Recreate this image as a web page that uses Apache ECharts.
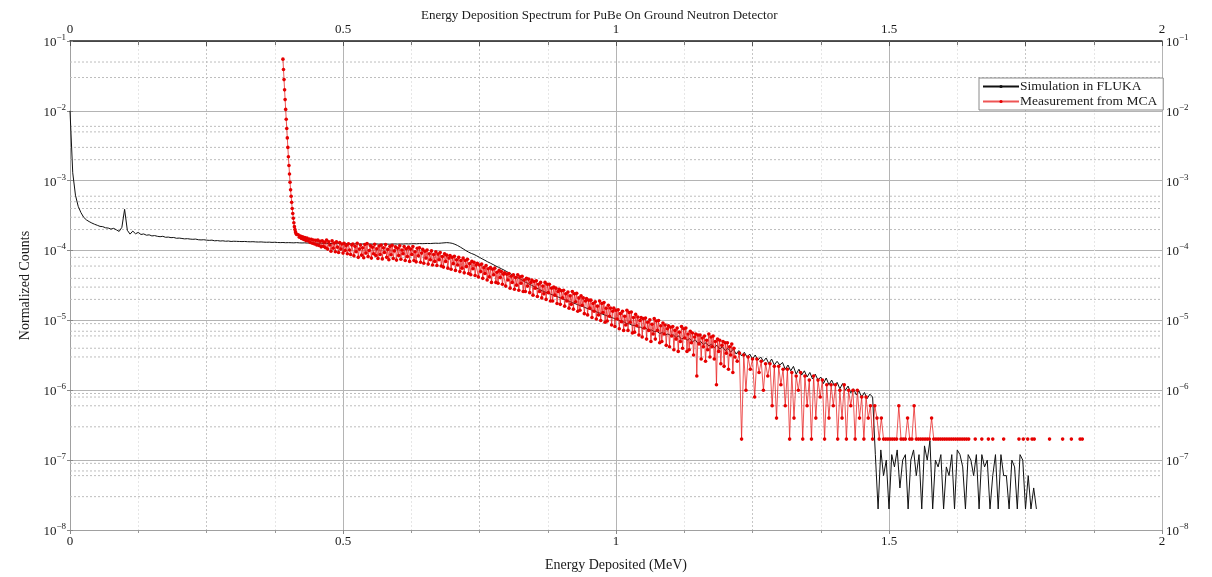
<!DOCTYPE html>
<html>
<head>
<meta charset="utf-8">
<title>Energy Deposition Spectrum for PuBe On Ground Neutron Detector</title>
<script src="https://cdn.jsdelivr.net/npm/echarts@6/dist/echarts.min.js"></script>
<style>
  html, body { margin: 0; padding: 0; background: #fff; }
  #chart { width: 1212px; height: 577px; }
</style>
</head>
<body>
<div id="chart"></div>
<script>
// ---- FLUKA simulation: fixed-width energy bins starting at 0 MeV ----
const flukaStart = 0;
const flukaBinWidth = 0.005;
const flukaCounts = [
  // 0.000 - 0.100
  1.0e-2, 1.3e-3, 6.2e-4, 4.3e-4, 3.5e-4, 3.0e-4, 2.75e-4, 2.6e-4, 2.48e-4, 2.38e-4,
  2.3e-4, 2.22e-4, 2.2e-4, 2.12e-4, 2.1e-4, 2.03e-4, 2.08e-4, 1.98e-4, 1.88e-4, 2.15e-4, 3.9e-4,
  // 0.105 - 0.200
  1.95e-4, 1.72e-4, 1.9e-4, 1.74e-4, 1.82e-4, 1.7e-4, 1.73e-4, 1.66e-4, 1.68e-4, 1.62e-4,
  1.64e-4, 1.6e-4, 1.58e-4, 1.6e-4, 1.55e-4, 1.56e-4, 1.53e-4, 1.54e-4, 1.5e-4, 1.51e-4,
  // 0.205 - 0.300
  1.49e-4, 1.47e-4, 1.48e-4, 1.46e-4, 1.45e-4, 1.46e-4, 1.43e-4, 1.42e-4, 1.43e-4, 1.41e-4,
  1.4e-4, 1.41e-4, 1.38e-4, 1.39e-4, 1.37e-4, 1.38e-4, 1.36e-4, 1.37e-4, 1.35e-4, 1.36e-4,
  // 0.305 - 0.400
  1.355e-4, 1.35e-4, 1.345e-4, 1.35e-4, 1.34e-4, 1.335e-4, 1.34e-4, 1.33e-4, 1.325e-4, 1.33e-4,
  1.32e-4, 1.315e-4, 1.32e-4, 1.31e-4, 1.315e-4, 1.305e-4, 1.3e-4, 1.305e-4, 1.295e-4, 1.3e-4,
  // 0.405 - 0.500
  1.295e-4, 1.29e-4, 1.3e-4, 1.29e-4, 1.285e-4, 1.29e-4, 1.28e-4, 1.285e-4, 1.275e-4, 1.28e-4,
  1.27e-4, 1.275e-4, 1.265e-4, 1.27e-4, 1.26e-4, 1.265e-4, 1.26e-4, 1.255e-4, 1.26e-4, 1.25e-4,
  // 0.505 - 0.600
  1.255e-4, 1.245e-4, 1.25e-4, 1.24e-4, 1.25e-4, 1.245e-4, 1.24e-4, 1.25e-4, 1.24e-4, 1.245e-4,
  1.235e-4, 1.245e-4, 1.24e-4, 1.235e-4, 1.245e-4, 1.24e-4, 1.235e-4, 1.24e-4, 1.245e-4, 1.24e-4,
  // 0.605 - 0.680
  1.245e-4, 1.24e-4, 1.25e-4, 1.245e-4, 1.25e-4, 1.255e-4, 1.25e-4, 1.26e-4, 1.255e-4, 1.26e-4,
  1.265e-4, 1.26e-4, 1.27e-4, 1.275e-4, 1.27e-4, 1.28e-4,
  // 0.685 - 0.800
  1.29e-4, 1.3e-4, 1.29e-4, 1.27e-4, 1.23e-4, 1.18e-4, 1.12e-4, 1.06e-4, 1.0e-4, 9.5e-5,
  9.1e-5, 8.8e-5, 8.4e-5, 8.0e-5, 7.6e-5, 7.25e-5, 6.9e-5, 6.6e-5, 6.3e-5, 6.0e-5,
  5.75e-5, 5.5e-5, 5.25e-5, 5.0e-5,
  // 0.805 - 0.860
  4.75e-5, 4.5e-5, 4.3e-5, 4.1e-5, 3.9e-5, 3.7e-5, 3.5e-5, 3.35e-5, 3.2e-5, 3.05e-5, 2.9e-5, 2.78e-5,
  // 0.865 - 1.000
  2.65e-5, 2.55e-5, 2.47e-5, 2.38e-5, 2.3e-5, 2.22e-5, 2.15e-5, 2.07e-5, 2.0e-5, 1.93e-5,
  1.87e-5, 1.8e-5, 1.74e-5, 1.68e-5, 1.62e-5, 1.57e-5, 1.51e-5, 1.46e-5, 1.41e-5, 1.37e-5,
  1.32e-5, 1.28e-5, 1.23e-5, 1.19e-5, 1.15e-5, 1.11e-5, 1.08e-5, 1.04e-5,
  // 1.005 - 1.100
  1.01e-5, 9.6e-6, 9.5e-6, 9.0e-6, 8.9e-6, 8.5e-6, 8.5e-6, 8.0e-6, 8.0e-6, 7.6e-6,
  7.7e-6, 7.2e-6, 7.3e-6, 6.9e-6, 7.0e-6, 6.5e-6, 6.7e-6, 6.2e-6, 6.4e-6, 6.1e-6,
  // 1.105 - 1.200
  6.2e-6, 5.7e-6, 6.0e-6, 5.4e-6, 5.7e-6, 5.2e-6, 5.5e-6, 4.9e-6, 5.3e-6, 4.7e-6,
  5.0e-6, 4.5e-6, 4.8e-6, 4.3e-6, 4.6e-6, 4.1e-6, 4.4e-6, 3.9e-6, 4.2e-6, 3.7e-6,
  // 1.205 - 1.300
  4.0e-6, 3.5e-6, 3.9e-6, 3.3e-6, 3.7e-6, 3.1e-6, 3.5e-6, 3.0e-6, 3.3e-6, 2.8e-6,
  3.2e-6, 2.7e-6, 3.0e-6, 2.6e-6, 2.9e-6, 2.4e-6, 2.8e-6, 2.3e-6, 2.6e-6, 2.3e-6,
  // 1.305 - 1.405
  2.5e-6, 2.0e-6, 2.3e-6, 1.9e-6, 2.2e-6, 1.7e-6, 2.0e-6, 1.65e-6, 1.9e-6, 1.55e-6,
  1.8e-6, 1.45e-6, 1.7e-6, 1.4e-6, 1.55e-6, 1.25e-6, 1.5e-6, 1.2e-6, 1.4e-6, 1.15e-6, 1.3e-6,
  // 1.410 - 1.470
  1.05e-6, 1.25e-6, 1.0e-6, 1.15e-6, 9.2e-7, 1.05e-6, 8.6e-7, 9.8e-7, 8.0e-7, 9.3e-7,
  7.6e-7, 8.8e-7, 8.0e-7,
  // 1.475 - 1.570
  1.2e-7, 2e-8, 1.4e-7, 6e-8, 1.0e-7, 2e-8, 1.2e-7, 8e-8, 1.4e-7, 4e-8,
  1.0e-7, 1.2e-7, 2e-8, 1.0e-7, 1.4e-7, 6e-8, 1.2e-7, 2e-8, 1.6e-7, 1.0e-7,
  // 1.575 - 1.670
  1.9e-7, 2e-8, 1.0e-7, 8e-8, 1.2e-7, 2e-8, 8e-8, 6e-8, 1.2e-7, 2e-8,
  1.4e-7, 1.2e-7, 8e-8, 2e-8, 1.2e-7, 1.0e-7, 6e-8, 1.2e-7, 2e-8, 1.2e-7,
  // 1.675 - 1.770
  8e-8, 1.0e-7, 2e-8, 6e-8, 1.2e-7, 2e-8, 1.2e-7, 6e-8, 6e-8, 2e-8,
  1.0e-7, 8e-8, 2e-8, 1.2e-7, 1.0e-7, 2e-8, 6e-8, 2e-8, 4e-8, 2e-8
];

// ---- MCA measurement ----
// steep leading edge
const mcaEdgeEnergy = [
  0.390, 0.391, 0.392, 0.393, 0.394, 0.395, 0.396, 0.397, 0.398, 0.399, 0.400, 0.401, 0.402,
  0.403, 0.404, 0.405, 0.406, 0.407, 0.408, 0.409, 0.410, 0.411, 0.412, 0.413, 0.414, 0.415
];
const mcaEdgeCounts = [
  5.5e-2, 3.9e-2, 2.8e-2, 2.0e-2, 1.45e-2, 1.05e-2, 7.6e-3, 5.6e-3, 4.1e-3, 3.0e-3, 2.2e-3, 1.65e-3, 1.25e-3,
  9.5e-4, 7.4e-4, 6.0e-4, 4.9e-4, 4.0e-4, 3.4e-4, 2.9e-4, 2.5e-4, 2.2e-4, 2.0e-4, 1.85e-4, 1.75e-4, 1.7e-4
];
// fine channels through the dense part of the spectrum
const mcaBandStart = 0.418;
const mcaBandStep = 0.002;
const mcaBandCounts = [
  // 0.418 - 0.466
  1.68e-4, 1.55e-4, 1.62e-4, 1.49e-4, 1.58e-4, 1.44e-4, 1.53e-4, 1.39e-4, 1.51e-4, 1.37e-4,
  1.46e-4, 1.31e-4, 1.45e-4, 1.27e-4, 1.42e-4, 1.24e-4, 1.4e-4, 1.2e-4, 1.41e-4, 1.18e-4,
  1.36e-4, 1.13e-4, 1.38e-4, 1.15e-4, 1.32e-4,
  // 0.468 - 0.516
  1.1e-4, 1.42e-4, 1.05e-4, 1.34e-4, 1.2e-4, 9.8e-5, 1.38e-4, 1.08e-4, 1.28e-4, 9.6e-5,
  1.33e-4, 1.12e-4, 9.4e-5, 1.3e-4, 1.05e-4, 1.24e-4, 9.2e-5, 1.27e-4, 1.0e-4, 1.18e-4,
  9.0e-5, 1.25e-4, 1.02e-4, 8.8e-5, 1.2e-4,
  // 0.518 - 0.566
  1.24e-4, 8.4e-5, 1.15e-4, 9.6e-5, 1.27e-4, 8.0e-5, 1.05e-4, 1.2e-4, 8.6e-5, 1.1e-4,
  7.9e-5, 1.22e-4, 9.2e-5, 1.26e-4, 8.2e-5, 1.0e-4, 1.18e-4, 7.8e-5, 1.12e-4, 9.0e-5,
  1.23e-4, 8.5e-5, 1.06e-4, 7.7e-5, 1.16e-4,
  // 0.568 - 0.616
  8.8e-5, 1.2e-4, 7.6e-5, 1.1e-4, 9.4e-5, 1.22e-4, 8.0e-5, 1.04e-4, 7.4e-5, 1.15e-4,
  8.7e-5, 1.19e-4, 7.7e-5, 9.9e-5, 1.13e-4, 7.3e-5, 1.08e-4, 8.5e-5, 1.17e-4, 7.5e-5,
  1.02e-4, 9.0e-5, 1.14e-4, 7.2e-5, 1.06e-4,
  // 0.618 - 0.666
  8.2e-5, 1.12e-4, 7.0e-5, 1.05e-4, 8.8e-5, 1.14e-4, 7.2e-5, 9.6e-5, 6.9e-5, 1.08e-4,
  8.4e-5, 1.1e-4, 6.8e-5, 9.2e-5, 1.04e-4, 6.6e-5, 9.8e-5, 7.8e-5, 1.02e-4, 6.4e-5,
  9.0e-5, 7.4e-5, 9.9e-5, 6.2e-5, 8.8e-5,
  // 0.668 - 0.716
  7.0e-5, 9.6e-5, 6.1e-5, 8.9e-5, 7.4e-5, 9.4e-5, 6.0e-5, 8.2e-5, 5.8e-5, 9.0e-5,
  7.0e-5, 8.6e-5, 5.6e-5, 7.8e-5, 8.5e-5, 5.4e-5, 8.0e-5, 6.5e-5, 8.3e-5, 5.2e-5,
  7.4e-5, 6.2e-5, 8.0e-5, 5.0e-5, 7.2e-5,
  // 0.718 - 0.766
  5.6e-5, 7.8e-5, 4.8e-5, 7.2e-5, 5.9e-5, 7.5e-5, 4.7e-5, 6.5e-5, 4.5e-5, 7.0e-5,
  5.5e-5, 6.8e-5, 4.4e-5, 6.2e-5, 6.6e-5, 4.2e-5, 6.2e-5, 5.0e-5, 6.4e-5, 4.0e-5,
  5.7e-5, 4.7e-5, 6.1e-5, 3.8e-5, 5.5e-5,
  // 0.768 - 0.816
  4.2e-5, 5.7e-5, 3.5e-5, 5.4e-5, 4.5e-5, 5.6e-5, 3.5e-5, 4.9e-5, 3.4e-5, 5.2e-5,
  4.1e-5, 5.0e-5, 3.3e-5, 4.6e-5, 4.8e-5, 3.1e-5, 4.6e-5, 3.8e-5, 4.7e-5, 2.9e-5,
  4.3e-5, 3.5e-5, 4.5e-5, 2.8e-5, 4.1e-5,
  // 0.818 - 0.866
  3.2e-5, 4.5e-5, 2.7e-5, 4.2e-5, 3.4e-5, 4.3e-5, 2.6e-5, 3.8e-5, 2.6e-5, 4.0e-5,
  3.1e-5, 3.9e-5, 2.5e-5, 3.5e-5, 3.8e-5, 2.3e-5, 3.6e-5, 2.9e-5, 3.7e-5, 2.2e-5,
  3.3e-5, 2.6e-5, 3.5e-5, 2.1e-5, 3.1e-5,
  // 0.868 - 0.916
  2.4e-5, 3.5e-5, 2.0e-5, 3.3e-5, 2.5e-5, 3.3e-5, 1.9e-5, 2.9e-5, 1.9e-5, 3.0e-5,
  2.3e-5, 2.9e-5, 1.75e-5, 2.6e-5, 2.8e-5, 1.7e-5, 2.65e-5, 2.1e-5, 2.7e-5, 1.6e-5,
  2.4e-5, 1.9e-5, 2.55e-5, 1.5e-5, 2.25e-5,
  // 0.918 - 0.966
  1.7e-5, 2.6e-5, 1.45e-5, 2.4e-5, 1.85e-5, 2.45e-5, 1.35e-5, 2.1e-5, 1.4e-5, 2.25e-5,
  1.65e-5, 2.1e-5, 1.25e-5, 1.9e-5, 2.05e-5, 1.2e-5, 1.95e-5, 1.5e-5, 1.95e-5, 1.1e-5,
  1.75e-5, 1.35e-5, 1.85e-5, 1.05e-5, 1.6e-5,
  // 0.968 - 1.016
  1.2e-5, 1.9e-5, 1.0e-5, 1.75e-5, 1.3e-5, 1.8e-5, 9.4e-6, 1.5e-5, 9.8e-6, 1.65e-5,
  1.15e-5, 1.5e-5, 8.6e-6, 1.35e-5, 1.5e-5, 8.2e-6, 1.4e-5, 1.05e-5, 1.42e-5, 7.6e-6,
  1.25e-5, 9.6e-6, 1.35e-5, 7.2e-6, 1.15e-5,
  // 1.018 - 1.066
  8.6e-6, 1.4e-5, 7.2e-6, 1.3e-5, 9.4e-6, 1.32e-5, 6.6e-6, 1.1e-5, 6.8e-6, 1.22e-5,
  8.4e-6, 1.12e-5, 6.2e-6, 1.0e-5, 1.1e-5, 5.8e-6, 1.06e-5, 7.8e-6, 1.08e-5, 5.4e-6,
  9.4e-6, 7.2e-6, 1.02e-5, 5.0e-6, 8.8e-6,
  // 1.068 - 1.116
  6.4e-6, 1.06e-5, 5.4e-6, 9.8e-6, 7.2e-6, 1.0e-5, 4.8e-6, 8.4e-6, 5.0e-6, 9.2e-6,
  6.4e-6, 8.6e-6, 4.4e-6, 7.6e-6, 8.4e-6, 4.2e-6, 8.0e-6, 6.0e-6, 8.2e-6, 3.8e-6,
  7.2e-6, 5.4e-6, 7.8e-6, 3.6e-6, 6.8e-6,
  // 1.118 - 1.166
  5.0e-6, 8.2e-6, 4.0e-6, 7.6e-6, 5.6e-6, 7.8e-6, 3.6e-6, 6.4e-6, 3.8e-6, 7.0e-6,
  4.8e-6, 6.6e-6, 3.2e-6, 5.8e-6, 6.4e-6, 1.6e-6, 6.2e-6, 4.6e-6, 6.2e-6, 2.8e-6,
  5.6e-6, 4.2e-6, 6.0e-6, 2.6e-6, 5.2e-6,
  // 1.168 - 1.218
  3.8e-6, 6.4e-6, 3.0e-6, 5.8e-6, 4.2e-6, 6.0e-6, 2.8e-6, 5.0e-6, 1.2e-6, 5.4e-6,
  3.6e-6, 5.2e-6, 2.4e-6, 4.4e-6, 5.0e-6, 2.2e-6, 4.8e-6, 3.4e-6, 4.8e-6, 2.0e-6,
  4.2e-6, 3.2e-6, 4.6e-6, 1.8e-6, 4.0e-6, 3.0e-6
];
// coarser channels through the low-count tail; null marks an empty channel
const mcaTailStart = 1.222;
const mcaTailStep = 0.004;
const mcaTailCounts = [
  // 1.222 - 1.314
  2.6e-6, 3.4e-6, 2e-7, 3.2e-6, 1.0e-6, 3.0e-6, 2.0e-6, 2.8e-6, 8e-7, 2.8e-6,
  1.8e-6, 2.6e-6, 1.0e-6, 2.4e-6, 1.6e-6, 2.4e-6, 6e-7, 2.2e-6, 4e-7, 2.2e-6,
  1.2e-6, 2.0e-6, 6e-7, 2.0e-6,
  // 1.318 - 1.414
  2e-7, 1.8e-6, 4e-7, 1.6e-6, 1.0e-6, 1.8e-6, 2e-7, 1.6e-6, 6e-7, 1.4e-6,
  2e-7, 1.6e-6, 4e-7, 1.4e-6, 8e-7, 1.4e-6, 2e-7, 1.2e-6, 4e-7, 1.2e-6,
  6e-7, 1.2e-6, 2e-7, 1.0e-6, 4e-7,
  // 1.418 - 1.514
  1.2e-6, 2e-7, 1.0e-6, 6e-7, 1.0e-6, 2e-7, 1.0e-6, 4e-7, 8e-7, 2e-7,
  8e-7, 4e-7, 6e-7, 2e-7, 6e-7, 4e-7, 2e-7, 4e-7, 2e-7, 2e-7,
  2e-7, 2e-7, 2e-7, 2e-7, 2e-7,
  // 1.518 - 1.638
  6e-7, 2e-7, 2e-7, 2e-7, 4e-7, 2e-7, 2e-7, 6e-7, 2e-7, 2e-7,
  2e-7, 2e-7, 2e-7, 2e-7, 2e-7, 4e-7, 2e-7, 2e-7, 2e-7, 2e-7,
  2e-7, 2e-7, 2e-7, 2e-7, 2e-7, 2e-7, 2e-7, 2e-7, 2e-7, 2e-7, 2e-7,
  // 1.642 - 1.866
  2e-7, 2e-7, null, null, 2e-7, null, null, 2e-7, null, null,
  2e-7, null, 2e-7, null, null, null, null, 2e-7, null, null,
  null, null, null, null, 2e-7, null, 2e-7, null, 2e-7, null,
  2e-7, 2e-7, null, null, null, null, null, null, 2e-7, null,
  null, null, null, null, 2e-7, null, null, null, 2e-7, null,
  null, null, 2e-7, 2e-7, null, null, null
];

// ---- axis ticks and rules ----
const energyTickLabels = [0, 0.5, 1, 1.5, 2];
const decadeExponents = [-8, -7, -6, -5, -4, -3, -2, -1];
// dotted sub-decade rules: [decade exponent, mantissas drawn inside it]
const subDecadeRules = [
  [-8, [3, 6, 7, 9]],
  [-7, [3, 6, 8, 9]],
  [-6, [3, 4, 6, 7, 9]],
  [-5, [2, 3, 4, 6, 8]],
  [-4, [2, 3, 4, 5, 6]],
  [-3, [2, 3, 5, 6]],
  [-2, [3, 5]]
];

const serif = "'Liberation Serif', 'DejaVu Serif', 'Times New Roman', serif";
const ink = '#1a1a1a';

const flukaData = flukaCounts.map((v, i) => [+(flukaStart + i * flukaBinWidth).toFixed(4), v]);
const mcaData = mcaEdgeEnergy.map((e, i) => [e, mcaEdgeCounts[i]])
  .concat(mcaBandCounts.map((v, i) => [+(mcaBandStart + i * mcaBandStep).toFixed(4), v]))
  .concat(mcaTailCounts.map((v, i) => [+(mcaTailStart + i * mcaTailStep).toFixed(4), v]));

// each rule is a broken segment spanning the energy range
const ruleData = [];
subDecadeRules.forEach(([e, mantissas]) => {
  mantissas.forEach(m => {
    const v = Number(m + 'e' + e);
    ruleData.push([0, v], [2, v], [1, null]);
  });
});

function energyLabel(v) {
  const hit = energyTickLabels.find(t => Math.abs(t - v) < 1e-9);
  return hit === undefined ? '' : String(hit);
}
function powerLabel(v) {
  const e = Math.round(Math.log10(v));
  if (decadeExponents.indexOf(e) < 0) return '';
  return '{b|10}{s|' + (e < 0 ? '\u2212' : '') + Math.abs(e) + '}';
}
const powerRich = {
  b: { fontFamily: serif, fontSize: 13, color: ink, lineHeight: 16, verticalAlign: 'bottom' },
  s: { fontFamily: serif, fontSize: 9, color: ink, lineHeight: 9, verticalAlign: 'top' }
};

const chart = echarts.init(document.getElementById('chart'), null, { renderer: 'canvas' });
chart.setOption({
  animation: false,
  backgroundColor: '#ffffff',
  title: {
    text: 'Energy Deposition Spectrum for PuBe On Ground Neutron Detector',
    left: 416, top: 4,
    textStyle: { fontFamily: serif, fontSize: 13, fontWeight: 'normal', color: ink }
  },
  legend: {
    orient: 'vertical',
    left: 979, top: 78,
    padding: [1, 6, 1, 3],
    itemGap: 0,
    itemWidth: 36, itemHeight: 4,
    borderColor: '#8a8a8a', borderWidth: 1,
    backgroundColor: '#ffffff',
    data: ['Simulation in FLUKA', 'Measurement from MCA'],
    textStyle: { fontFamily: serif, fontSize: 13.5, lineHeight: 15, color: ink, padding: [0, 0, 0, -4] }
  },
  grid: { left: 70, right: 50, top: 41, bottom: 46 },
  xAxis: [
    {
      type: 'value', position: 'bottom', min: 0, max: 2, interval: 0.5,
      name: 'Energy Deposited (MeV)', nameLocation: 'middle', nameGap: 28,
      nameTextStyle: { fontFamily: serif, fontSize: 14, color: ink },
      axisLine: { show: true, lineStyle: { color: '#a0a0a0', width: 1 } },
      axisTick: { show: true, inside: false, length: 4, lineStyle: { color: '#8a8a8a' } },
      minorTick: { show: true, splitNumber: 4, length: 3, lineStyle: { color: '#9a9a9a' } },
      axisLabel: { margin: 5, fontFamily: serif, fontSize: 13, color: ink, formatter: energyLabel },
      splitLine: { show: true, lineStyle: { color: '#b4b4b4', width: 1 } },
      minorSplitLine: { show: true, lineStyle: { color: '#e6e6e6', width: 1, type: [2, 2] } }
    },
    {
      type: 'value', position: 'top', min: 0, max: 2, interval: 0.25,
      axisLine: { show: true, onZero: false, lineStyle: { color: '#222', width: 1.5 } },
      axisTick: { show: true, inside: true, length: 5, lineStyle: { color: '#555' } },
      minorTick: { show: true, splitNumber: 2, length: 4, lineStyle: { color: '#777' } },
      axisLabel: { margin: 5, fontFamily: serif, fontSize: 13, color: ink, formatter: energyLabel },
      splitLine: { show: true, lineStyle: { color: ['rgba(0,0,0,0)', '#c6c6c6'], width: 1, type: [2, 2] } }
    }
  ],
  yAxis: [
    {
      type: 'log', logBase: 10, min: 1e-8, max: 1e-1, position: 'left',
      name: 'Normalized Counts', nameLocation: 'middle', nameGap: 35,
      nameTextStyle: { fontFamily: serif, fontSize: 14, color: ink },
      axisLine: { show: true, onZero: false, lineStyle: { color: '#a0a0a0', width: 1 } },
      axisTick: { show: true, length: 3, lineStyle: { color: '#888' } },
      axisLabel: { margin: 4, formatter: powerLabel, rich: powerRich },
      splitLine: { show: true, lineStyle: { color: '#b4b4b4', width: 1.2 } }
    },
    {
      type: 'log', logBase: 10, min: 1e-8, max: 1e-1, position: 'right',
      axisLine: { show: false },
      axisTick: { show: true, length: 3, lineStyle: { color: '#888' } },
      axisLabel: { margin: 4, formatter: powerLabel, rich: powerRich },
      splitLine: { show: false }
    }
  ],
  series: [
    {
      name: 'sub-decade rules',
      type: 'line', xAxisIndex: 0, yAxisIndex: 0, z: 1,
      data: ruleData, connectNulls: false, silent: true,
      showSymbol: false, symbol: 'none',
      lineStyle: { color: '#bdbdbd', width: 1, type: [2, 2] }
    },
    {
      name: 'Simulation in FLUKA',
      type: 'line', xAxisIndex: 0, yAxisIndex: 0, z: 3,
      data: flukaData,
      showSymbol: false, symbol: 'none',
      lineStyle: { color: '#111111', width: 1 },
      itemStyle: { color: '#111111' }
    },
    {
      name: 'Measurement from MCA',
      type: 'line', xAxisIndex: 0, yAxisIndex: 0, z: 4,
      data: mcaData,
      connectNulls: false,
      showSymbol: true, showAllSymbol: true,
      symbol: 'circle', symbolSize: 3.6,
      lineStyle: { color: 'rgba(232, 20, 20, 0.72)', width: 1 },
      itemStyle: { color: '#e60000', borderWidth: 0 }
    }
  ]
});
</script>
</body>
</html>
